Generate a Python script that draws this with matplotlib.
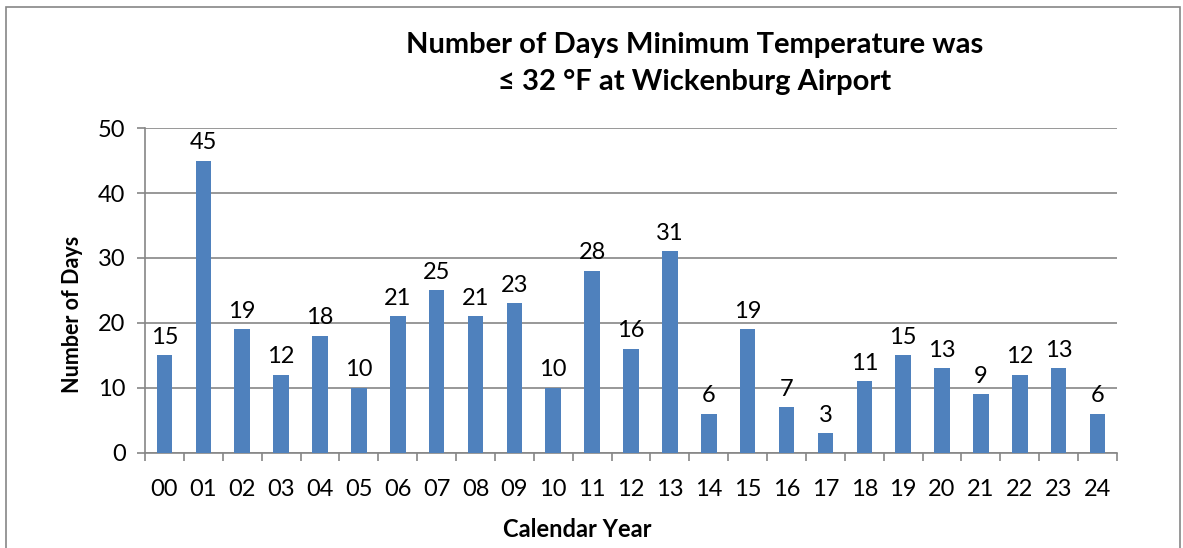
import numpy as np
import matplotlib.pyplot as plt
from matplotlib.patches import Rectangle

# data
years = ['00', '01', '02', '03', '04', '05', '06', '07', '08', '09', '10', '11', '12',
         '13', '14', '15', '16', '17', '18', '19', '20', '21', '22', '23', '24']
days = [15, 45, 19, 12, 18, 10, 21, 25, 21, 23, 10, 28, 16,
        31, 6, 19, 7, 3, 11, 15, 13, 9, 12, 13, 6]

plt.rcParams['font.family'] = ['Lato', 'DejaVu Sans']

fig = plt.figure(figsize=(11.83, 5.48), dpi=100)
ax = fig.add_axes([0.1226, 0.1734, 0.8216, 0.593])

x = np.arange(len(years))
ax.bar(x, days, width=0.4, color='#4F81BD', zorder=3)
for xi, v in zip(x, days):
    ax.text(xi, v + 1.2, str(v), ha='center', va='bottom', fontsize=17)

ax.set_xlim(-0.5, len(years) - 0.5)
ax.set_ylim(0, 50)
ax.set_yticks(range(0, 51, 10))
ax.set_xticks(x)
ax.set_xticklabels(years)
ax.set_xticks(np.arange(-0.5, len(years), 1), minor=True)
ax.tick_params(axis='x', which='major', length=0, pad=19, labelsize=17)
ax.tick_params(axis='x', which='minor', length=6, color='#868686', width=1.2)
ax.tick_params(axis='y', length=6, color='#868686', width=1.2, labelsize=17, pad=8)
ax.grid(axis='y', color='#868686', linewidth=1.2, zorder=0)
for side in ['top', 'right']:
    ax.spines[side].set_visible(False)
for side in ['left', 'bottom']:
    ax.spines[side].set_color('#868686')
    ax.spines[side].set_linewidth(1.2)

ax.set_ylabel('Number of Days', fontsize=15.5, fontweight='bold')
ax.yaxis.set_label_coords(-0.064, 0.425)
ax.set_xlabel('Calendar Year', fontsize=17, fontweight='bold')
ax.xaxis.set_label_coords(0.445, -0.2)

# title, two lines
fig.text(0.587, 0.918, 'Number of Days Minimum Temperature was',
         ha='center', va='center', fontsize=21, fontweight='bold')
fig.text(0.587, 0.850, '\u2264 32 \u00b0F at Wickenburg Airport',
         ha='center', va='center', fontsize=21, fontweight='bold')

# chart border
fig.patches.append(Rectangle((6 / 1183, -0.05), 1174 / 1183, 1.05 - 7 / 548,
                             transform=fig.transFigure, fill=False,
                             edgecolor='#868686', linewidth=1.2))

fig.savefig('out.png', dpi=100)
